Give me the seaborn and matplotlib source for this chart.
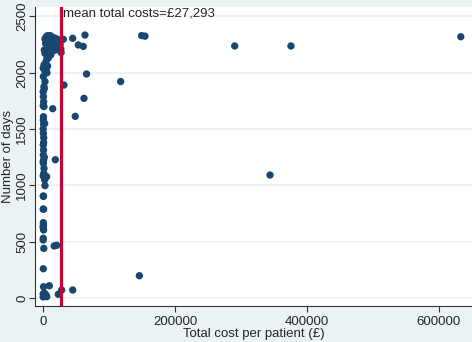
import numpy as np
import pandas as pd
import seaborn as sns
import matplotlib.pyplot as plt

# total cost per patient (GBP) and number of days
cost = [
    # column of low-cost patients
    300, 5600, 3000, 200, 2000, 4500, 800, 500, 1200, 300,
    400, 900, 600, 200, 700, 500, 1000, 300, 800, 3000,
    400, 5600, 900, 300, 1200, 600, 300, 900, 500, 800,
    400, 1100, 600, 300, 900, 500, 700, 400, 1000, 600,
    300, 1500, 3000, 500, 3000, 400, 1500, 5600, 3000, 2000,
    6000, 5000, 7000, 4000, 8000, 6000, 9000, 12000, 7000, 4000,
    10000, 2000, 1500, 2500, 1000, 2000, 1500, 2500,
    # top cluster
    3000, 5000, 7000, 9000, 11000, 13000, 15000, 17000, 19000, 21000,
    23000, 14000, 8000, 12000, 16000, 18000, 20000, 24000, 26000, 27000,
    27500,
    # the rest
    30800, 45000, 63600, 53500, 61000, 66000, 31800, 117700, 62100, 48900,
    14700, 18700, 149500, 154500, 290500, 375700, 633000, 344000, 146000, 17000,
    20700, 9600, 23200, 28300, 45000,
]
days = [
    9, 12, 20, 36, 45, 28, 100, 260, 441, 515,
    530, 604, 619, 634, 648, 669, 788, 790, 902, 998,
    906, 1078, 1083, 1086, 1107, 1196, 1210, 1225, 1270, 1314,
    1359, 1423, 1462, 1501, 1542, 1580, 1610, 1708, 1743, 1788,
    1832, 1876, 1922, 1966, 2010, 2040, 2069, 2116, 2173, 2202,
    2000, 2030, 2060, 2090, 2130, 2150, 2180, 2160, 2230, 2260,
    2250, 1860, 1700, 1550, 1380, 1250, 1150, 1050,
    2300, 2320, 2330, 2310, 2330, 2320, 2300, 2310, 2290, 2300,
    2280, 2270, 2280, 2240, 2230, 2200, 2220, 2270, 2250, 2211,
    2180,
    2297, 2306, 2335, 2247, 2234, 1989, 1891, 1922, 1773, 1613,
    1681, 1228, 2330, 2325, 2238, 2238, 2320, 1092, 198, 462,
    468, 109, 33, 71, 71,
]
mean_cost = 27293

df = pd.DataFrame({"cost": cost, "days": days})

sns.set_style("white")
plt.rcParams["font.family"] = ["Liberation Sans", "DejaVu Sans"]

bg = "#eaf2f3"
fig = plt.figure(figsize=(4.72, 3.42), dpi=100, facecolor=bg)
ax = fig.add_axes([35 / 472, 36 / 342, 437 / 472, 299 / 342])
ax.set_facecolor("white")

sns.scatterplot(data=df, x="cost", y="days", color="#1a476f", s=28,
                edgecolor="none", ax=ax, zorder=3)
ax.axvline(mean_cost, color="#c10534", lw=2.3, zorder=4)
ax.text(mean_cost + 2500, 2530, f"mean total costs=£{mean_cost:,}",
        fontsize=9.5, va="center", ha="left")

ax.set_xlim(-12100, 650000)
ax.set_ylim(-71, 2584)
ax.set_xticks([0, 200000, 400000, 600000])
ax.set_yticks([0, 500, 1000, 1500, 2000, 2500])
ax.set_yticklabels(["0", "500", "1000", "1500", "2000", "2500"],
                   rotation=90, va="center")
ax.tick_params(axis="both", labelsize=9.5, length=4, width=0.8,
               color="#333333", direction="out", bottom=True, left=True)
ax.tick_params(axis="y", pad=1)
ax.tick_params(axis="x", pad=3)
ax.grid(axis="y", color=bg, lw=1.2)
ax.grid(axis="x", visible=False)
ax.set_axisbelow(True)

for side in ["top", "right"]:
    ax.spines[side].set_visible(False)
for side in ["left", "bottom"]:
    ax.spines[side].set_color("#333333")
    ax.spines[side].set_linewidth(0.8)

ax.set_xlabel("Total cost per patient (£)", fontsize=9.5, labelpad=0)
ax.set_ylabel("Number of days", fontsize=9.5, va="center")
ax.yaxis.set_label_coords(-0.062, 0.5)

fig.savefig("out.png", dpi=100, facecolor=bg)
